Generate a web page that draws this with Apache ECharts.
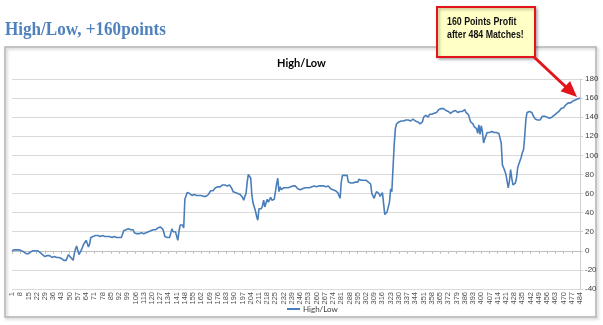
<!DOCTYPE html>
<html>
<head>
<meta charset="utf-8">
<script src="https://cdn.jsdelivr.net/npm/echarts@6/dist/echarts.min.js"></script>
<style>
html,body{margin:0;padding:0;background:#fff;}
#chart{width:603px;height:325px;}
</style>
</head>
<body>
<div id="chart"></div>
<script>
// Values (match 1..484)
const valuesPart1 = [0,1,1,1,1,1,1,1,0,1,
  -1,-2,-3,-3,-3,-2,
  -1,0,0,-1,0,1,0,
  -1,-2,-3,-4,
  -6,-6,-5,
  -5,-6,-5,-6,
  -7,-7,-6,-7,
  -7,-8,-7,-8,-8,
  -9,-10,-9,-10,
  -7,-4,-2,-7,-9,-10,
  -3,2,5,0,-4,
  -2,1,4,7,9,11,8,4,7,14,
  15,15,16,16,15,16,16,15,16,16,15,15,
  13,15,17,
  15,15,14,15,15,14,14,15,14,14,14,13,
  21,22,22,22,23,22,22,21,22,
  19,18,18,17,18,18,19,18,18,18,19,19,20,
  21,21,21,22,22,22,23,
  24,25,25,25,
  23,20,15,14,14,14,14,15,
  23,20,18,20,21,11,
  20,27,28,27,24,
  54,56,61,61,60,59,58,59,59,59,58,58,58,58];
const valuesPart2 = [58,57,57,58,57,58,
  59,61,63,63,
  63,64,66,67,67,67,67,
  68,69,69,69,69,68,69,69,68,
  65,62,61,61,61,60,60,59,
  58,56,53,57,60,
  72,80,80,76,58,
  50,46,42,36,32,44,
  42,44,47,53,46,50,54,51,53,56,53,55,54,53,
  70,76,62,67,64,65,66,66,66,65,66,66,
  67,68,68,69,68,
  66,65,65,64,64,65,
  66,66,66,66,67,66,66,
  67,67,68,68,67,68,68,67,68,68,68,68,67,68,68,
  66,65,65,64,64,63,
  62,61,60,55,
  72,79,79,79,79,79,
  72,71,71,71,71,71,72,71,72,
  75,74,74,74,74,73,74,73,
  72,71,70,
  60,58,55,59,62,61,60,57,58,61,60,
  38,36,41,43,51,65,62,87,111,128,133,134,135];
const valuesPart3 = [135,136,135,136,136,
  137,137,137,136,
  136,137,138,138,
  136,135,135,134,
  133,131,135,
  140,142,142,140,140,143,143,143,143,
  144,144,145,147,148,148,149,150,149,148,147,147,146,145,144,145,146,147,147,147,
  145,145,146,146,146,146,148,145,144,143,139,135,137,133,130,130,128,123,132,122,131,125,113,117,
  118,124,124,124,124,125,124,124,124,124,
  123,123,121,113,90,87,84,80,73,66,
  73,85,76,69,69,71,76,87,91,93,
  98,103,106,120,138,145,145,146,145,145,
  142,140,138,137,137,137,137,139,141,142,
  141,140,140,140,139,138,140,141,142,142,
  144,145,146,147,149,149,150,152,153,153,
  155,155,155,155,157,157,158,160,159,159,
  160];
const values = valuesPart1.concat(valuesPart2, valuesPart3);
const categories = values.map((v, i) => String(i + 1));
const yTicks = {min: -40, max: 180, interval: 20};
const seriesName = 'High/Low';
const pageTitle = 'High/Low, +160points';
const calloutText = '160 Points Profit\nafter 484 Matches!';

const chart = echarts.init(document.getElementById('chart'), null, {renderer: 'canvas'});
chart.setOption({
  backgroundColor: '#ffffff',
  animation: false,
  title: {
    text: seriesName,
    left: 'center',
    top: 53,
    textStyle: {fontFamily: 'Lato', fontWeight: 'bold', fontSize: 11, color: '#000'}
  },
  legend: {
    data: [{name: seriesName, icon: 'rect'}],
    left: 282,
    top: 300,
    itemWidth: 13,
    itemHeight: 2,
    itemGap: 3,
    textStyle: {fontFamily: 'Lato', fontSize: 8, color: '#404040', padding: [0, 0, 0, -2]}
  },
  grid: {left: 12, right: 23, top: 79, bottom: 36, containLabel: false},
  xAxis: {
    type: 'category',
    data: categories,
    boundaryGap: false,
    axisLine: {show: true, onZero: true, lineStyle: {color: '#bfbfbf', width: 1}},
    axisTick: {show: true, interval: 6, length: 3, lineStyle: {color: '#bfbfbf'}},
    axisLabel: {interval: 6, rotate: 90, fontSize: 7.5, fontFamily: 'Liberation Sans', color: '#505050', margin: 3},
    splitLine: {show: false}
  },
  yAxis: {
    type: 'value',
    position: 'right',
    min: yTicks.min,
    max: yTicks.max,
    interval: yTicks.interval,
    axisLine: {show: true, lineStyle: {color: '#d0d0d0'}},
    axisTick: {show: true, length: 3, lineStyle: {color: '#d0d0d0'}},
    axisLabel: {fontSize: 8, fontFamily: 'Liberation Sans', color: '#404040', margin: 5},
    splitLine: {show: true, lineStyle: {color: '#d9d9d9', width: 1}}
  },
  series: [{
    name: seriesName,
    type: 'line',
    data: values,
    symbol: 'none',
    lineStyle: {color: '#4A7EBB', width: 1.6},
    itemStyle: {color: '#4A7EBB'}
  }],
  graphic: [
    {type: 'text', x: 5, y: 21, scaleX: 0.95, style: {text: pageTitle, font: 'bold 18px "Liberation Serif"', fill: '#4F81BD'}},
    {type: 'rect', shape: {x: 5, y: 47, width: 591, height: 270}, style: {fill: 'none', stroke: '#b5b5b5', lineWidth: 1.5, shadowBlur: 3, shadowColor: 'rgba(0,0,0,0.25)', shadowOffsetX: 1.5, shadowOffsetY: 1.5}, silent: true},
    {type: 'rect', shape: {x: 437, y: 7, width: 98, height: 50}, style: {fill: '#FFFFC6', stroke: '#E3151B', lineWidth: 2, shadowBlur: 3, shadowColor: 'rgba(0,0,0,0.3)', shadowOffsetX: 1.5, shadowOffsetY: 1.5}, z: 10},
    {type: 'text', x: 447, y: 15, scaleX: 0.8, style: {text: calloutText, font: 'bold 11px "Liberation Sans"', fill: '#111', lineHeight: 13}, z: 11},
    {type: 'line', shape: {x1: 534, y1: 57, x2: 566, y2: 87}, style: {stroke: '#E3151B', lineWidth: 3}, z: 10},
    {type: 'polygon', shape: {points: [[577, 97], [560.5, 91.2], [570.1, 81]]}, style: {fill: '#E3151B'}, z: 10}
  ]
});
</script>
</body>
</html>
